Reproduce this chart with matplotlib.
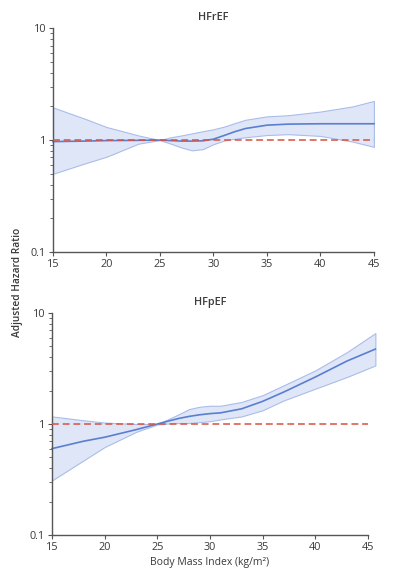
import numpy as np
import matplotlib.pyplot as plt
from matplotlib.ticker import FixedLocator, LogLocator, NullFormatter

plt.rcParams['font.family'] = ['Open Sans', 'DejaVu Sans']

# HFrEF spline (BMI, HR, lower CI, upper CI)
ref_bmi = [15, 18, 20, 23, 25, 26, 27, 28, 29, 30, 31, 32, 33, 35, 37, 40, 43, 45]
ref_hr = [0.97, 0.98, 0.99, 0.995, 1.0, 0.99, 0.98, 0.98, 0.985, 1.02, 1.10, 1.19, 1.27, 1.36, 1.39, 1.40, 1.40, 1.40]
ref_lo = [0.50, 0.62, 0.71, 0.93, 1.0, 0.93, 0.86, 0.81, 0.83, 0.92, 0.99, 1.03, 1.06, 1.11, 1.13, 1.09, 0.97, 0.87]
ref_hi = [1.96, 1.55, 1.31, 1.10, 1.0, 1.06, 1.10, 1.15, 1.20, 1.25, 1.32, 1.42, 1.52, 1.63, 1.67, 1.80, 2.00, 2.24]

# HFpEF spline
pef_bmi = [15, 18, 20, 23, 25, 26, 27, 28, 29, 30, 31, 33, 35, 37, 40, 43, 45.7]
pef_hr = [0.60, 0.70, 0.76, 0.89, 1.0, 1.06, 1.12, 1.17, 1.21, 1.24, 1.26, 1.37, 1.60, 1.94, 2.65, 3.69, 4.73]
pef_lo = [0.31, 0.47, 0.62, 0.85, 0.99, 1.01, 1.02, 1.02, 1.04, 1.06, 1.10, 1.17, 1.33, 1.63, 2.08, 2.65, 3.37]
pef_hi = [1.17, 1.08, 1.03, 1.00, 1.0, 1.10, 1.22, 1.36, 1.43, 1.46, 1.46, 1.58, 1.82, 2.23, 3.04, 4.44, 6.59]

x_ticks = [15, 20, 25, 30, 35, 40, 45]
y_ticks = [0.1, 1, 10]
y_labels = ['0.1', '1', '10']

band_face = '#dfe6f8'
band_edge = '#aabde9'
line_col = '#5a7fcf'
ref_col = '#d9503f'
axis_col = '#555555'
text_col = '#3a3a3a'

fig = plt.figure(figsize=(3.94, 5.76), dpi=100)
ax1 = fig.add_axes([0.1345, 0.5625, 0.8145, 0.3885])
ax2 = fig.add_axes([0.132, 0.0712, 0.802, 0.3854])


def draw_panel(ax, bmi, hr, lo, hi, title):
    ax.fill_between(bmi, lo, hi, facecolor=band_face, edgecolor=band_edge,
                    linewidth=0.8, clip_on=False, zorder=1)
    ax.plot(bmi, hr, color=line_col, linewidth=1.2, clip_on=False, zorder=2)
    ax.plot([15, 45], [1, 1], linestyle=(0, (4.5, 2.5)), color=ref_col,
            linewidth=1.1, zorder=3)
    ax.set_yscale('log')
    ax.set_xlim(15, 45)
    ax.set_ylim(0.1, 10)
    ax.set_xticks(x_ticks)
    ax.yaxis.set_major_locator(FixedLocator(y_ticks))
    ax.set_yticklabels(y_labels)
    ax.yaxis.set_minor_locator(LogLocator(base=10, subs=np.arange(2, 10)))
    ax.yaxis.set_minor_formatter(NullFormatter())
    for s in ['top', 'right']:
        ax.spines[s].set_visible(False)
    for s in ['left', 'bottom']:
        ax.spines[s].set_color(axis_col)
        ax.spines[s].set_linewidth(1.0)
    ax.tick_params(axis='both', which='major', labelsize=7.8, colors=axis_col,
                   labelcolor=text_col, length=3, width=0.8, pad=2)
    ax.tick_params(axis='y', which='minor', length=2, width=0.6, colors=axis_col)
    ax.set_title(title, fontsize=7.8, fontweight='semibold', color=text_col, pad=6)


draw_panel(ax1, ref_bmi, ref_hr, ref_lo, ref_hi, 'HFrEF')
draw_panel(ax2, pef_bmi, pef_hr, pef_lo, pef_hi, 'HFpEF')

ax2.set_xlabel('Body Mass Index (kg/m²)', fontsize=7.5, color=text_col, labelpad=3)
fig.text(0.045, 0.51, 'Adjusted Hazard Ratio', rotation=90, fontsize=7.3,
         color=text_col, ha='center', va='center', fontweight='semibold')

fig.savefig('out.png', dpi=100)
